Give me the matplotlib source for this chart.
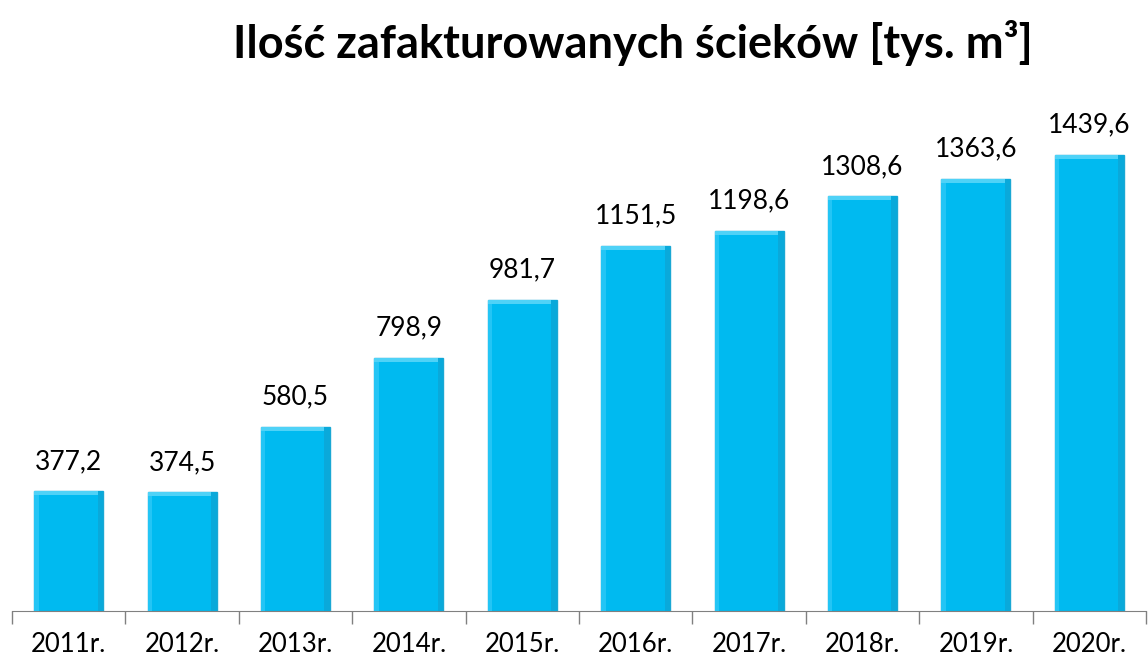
import matplotlib.pyplot as plt
import numpy as np

plt.rcParams['font.family'] = ['Lato', 'DejaVu Sans']

# data
years = ['2011r.', '2012r.', '2013r.', '2014r.', '2015r.',
         '2016r.', '2017r.', '2018r.', '2019r.', '2020r.']
values = [377.2, 374.5, 580.5, 798.9, 981.7,
          1151.5, 1198.6, 1308.6, 1363.6, 1439.6]
value_labels = ['377,2', '374,5', '580,5', '798,9', '981,7',
                '1151,5', '1198,6', '1308,6', '1363,6', '1439,6']

fig = plt.figure(figsize=(11.48, 6.59), dpi=100)
ax = fig.add_axes([12/1148, 48/659, 1134/1148, 1 - 104/659 - 48/659])

x = np.arange(len(years))
w = 0.61
bars = ax.bar(x, values, width=w, color='#00BAF0', edgecolor='#1AA8D4', linewidth=1, zorder=2)

# simple bevel: lighter top strip, darker right strip, light left strip
ax.bar(x, [12 for v in values], bottom=[v - 12 for v in values], width=w,
       color='#4FD2F7', linewidth=0, zorder=3)
ax.bar(x + w/2 - 0.025, values, width=0.05, color='#0AA9DA', linewidth=0, zorder=3)
ax.bar(x - w/2 + 0.02, [v - 12 for v in values], width=0.04, color='#24C5F5', linewidth=0, zorder=3)

for xi, v, lab in zip(x, values, value_labels):
    ax.text(xi, v + 55, lab, ha='center', va='bottom', fontsize=19, color='black')

ax.set_xlim(-0.5, len(years) - 0.5)
ax.set_ylim(0, 1600)
ax.set_yticks([])
ax.set_xticks(np.arange(len(years) + 1) - 0.5, minor=False)
ax.set_xticklabels([])
ax.set_xticks(x, minor=True)
ax.set_xticklabels(years, minor=True, fontsize=18.5)
ax.tick_params(axis='x', which='major', length=9, color='#808080', width=1)
ax.tick_params(axis='x', which='minor', length=0, pad=15)

for s in ['top', 'right', 'left']:
    ax.spines[s].set_visible(False)
ax.spines['bottom'].set_color('#808080')

fig.text(0.551, 0.935, 'Ilość zafakturowanych ścieków [tys. m³]', ha='center', va='center',
         fontsize=32.5, fontweight='bold')

fig.savefig('out.png', dpi=100)
